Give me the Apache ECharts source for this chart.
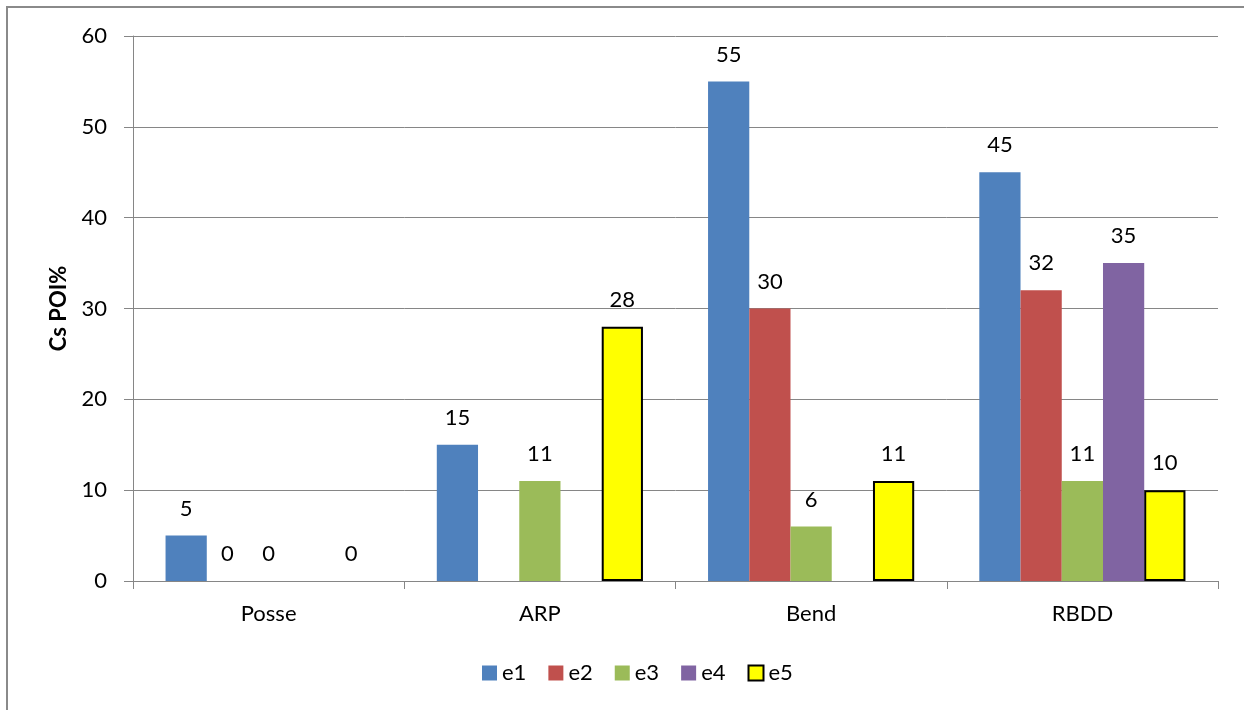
<!DOCTYPE html>
<html>
<head>
<meta charset="utf-8">
<script src="https://cdn.jsdelivr.net/npm/echarts@6/dist/echarts.min.js"></script>
<style>
  html, body { margin: 0; padding: 0; background: #fff; }
  #frame { position: absolute; left: 6px; top: 6px; width: 1300px; height: 800px;
           border-top: 2px solid #8a8a8a; border-left: 2px solid #8a8a8a; }
  #chart { position: absolute; left: 0; top: 0; width: 1244px; height: 710px; }
</style>
</head>
<body>
<div id="frame"></div>
<div id="chart"></div>
<script>
// Sites along the axis
const categories = ['Posse', 'ARP', 'Bend', 'RBDD'];
// Cs POI% per site for each series (null = not measured)
const e1 = [5, 15, 55, 45];
const e2 = [0, null, 30, 32];
const e3 = [0, 11, 6, 11];
const e4 = [null, null, null, 35];
const e5 = [0, 28, 11, 10];
const yTicks = { min: 0, max: 60, interval: 10 };

const FONT = 'Lato, "Open Sans", sans-serif';
const FS = 22;
const seriesDefs = [
  { name: 'e1', data: e1, color: '#4F81BD' },
  { name: 'e2', data: e2, color: '#C0504D' },
  { name: 'e3', data: e3, color: '#9BBB59' },
  { name: 'e4', data: e4, color: '#8064A2' },
  { name: 'e5', data: e5, color: '#FFFF00', border: true }
];

// Outlined bars get no outline when their value is zero
function barData(s) {
  return s.data.map(v => {
    if (v === null) return null;
    if (s.border && v === 0) return { value: v, itemStyle: { borderWidth: 0 } };
    return v;
  });
}

const chart = echarts.init(document.getElementById('chart'), null, { renderer: 'canvas' });
chart.setOption({
  animation: false,
  textStyle: { fontFamily: FONT },
  grid: { left: 133, right: 26, top: 36, bottom: 129, containLabel: false },
  legend: {
    top: 657, left: 477,
    itemWidth: 15, itemHeight: 15, itemGap: 22,
    icon: 'rect',
    textStyle: { fontSize: FS, color: '#000', fontFamily: FONT },
    data: seriesDefs.map(s => s.name)
  },
  xAxis: {
    type: 'category',
    data: categories,
    axisLine: { lineStyle: { color: '#868686', width: 1 } },
    axisTick: { show: true, length: 8, lineStyle: { color: '#868686' } },
    axisLabel: { fontSize: FS, color: '#000', margin: 22, fontFamily: FONT }
  },
  yAxis: {
    type: 'value',
    min: yTicks.min, max: yTicks.max, interval: yTicks.interval,
    name: 'Cs POI%',
    nameLocation: 'middle',
    nameGap: 63,
    nameTextStyle: { fontSize: FS, fontWeight: 'bold', color: '#000', fontFamily: FONT },
    axisLine: { show: true, lineStyle: { color: '#868686' } },
    axisTick: { show: true, length: 9, lineStyle: { color: '#868686' } },
    axisLabel: { fontSize: FS, color: '#000', margin: 26, fontFamily: FONT },
    splitLine: { lineStyle: { color: '#868686', width: 1 } }
  },
  series: seriesDefs.map(s => ({
    type: 'bar',
    name: s.name,
    data: barData(s),
    barGap: '0%',
    barCategoryGap: '24%',
    itemStyle: s.border
      ? { color: s.color, borderColor: '#000', borderWidth: 2 }
      : { color: s.color },
    label: {
      show: true, position: 'top', distance: 16,
      fontSize: FS, color: '#000', fontFamily: FONT
    }
  }))
});
</script>
</body>
</html>
